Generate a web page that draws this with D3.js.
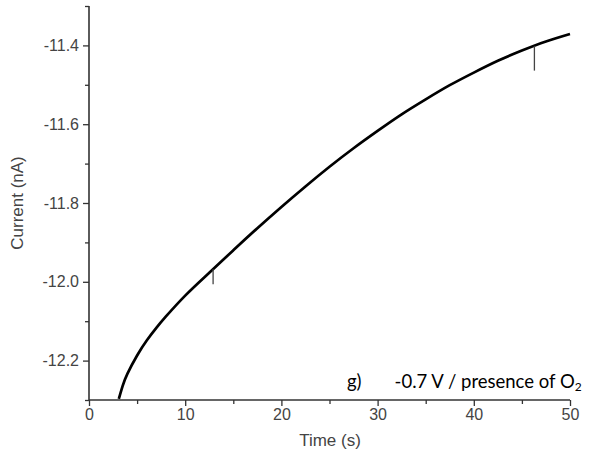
<!DOCTYPE html>
<html>
<head>
<meta charset="utf-8">
<script src="https://cdn.jsdelivr.net/npm/d3@7"></script>
<style>
  html, body { margin: 0; padding: 0; background: #fff; }
  svg { display: block; }
  .tick text { font-family: "Liberation Sans", Arial, sans-serif; font-size: 16px; fill: #444; }
</style>
</head>
<body>
<svg id="chart" width="589" height="461"></svg>
<script>
// Chronoamperometric trace: time (s) vs current (nA)
const timeS = [3.1, 3.5, 4, 5, 6, 7, 8, 10, 12.5, 15, 17.5, 20, 22.5, 25, 27.5, 30, 32.5, 35, 37.5, 40, 42.5, 45, 47.5, 50];
const currentNA = [-12.297, -12.264, -12.233, -12.187, -12.149, -12.117, -12.088, -12.035, -11.977, -11.920, -11.864, -11.810,
  -11.758, -11.708, -11.661, -11.617, -11.575, -11.537, -11.501, -11.469, -11.439, -11.413, -11.390, -11.371];

// Short transient spikes on the trace
const spikeTime = [12.9, 46.3];
const spikeTop = [-11.968, -11.402];
const spikeBottom = [-12.006, -11.464];

const xTicks = [0, 10, 20, 30, 40, 50];
const xMinorTicks = [5, 15, 25, 35, 45];
const yTicks = [-12.2, -12.0, -11.8, -11.6, -11.4];
const yMinorTicks = [-12.3, -12.1, -11.9, -11.7, -11.5, -11.3];

const svg = d3.select("#chart");
const x = d3.scaleLinear().domain([0, 50]).range([89, 570]);
const y = d3.scaleLinear().domain([-12.3, -11.3]).range([400, 6]);

const axisColor = "#333";

// Minor ticks
const gxm = svg.append("g").attr("transform", "translate(0,400)")
  .call(d3.axisBottom(x).tickValues(xMinorTicks).tickSize(4).tickFormat(""));
const gym = svg.append("g").attr("transform", "translate(89,0)")
  .call(d3.axisLeft(y).tickValues(yMinorTicks).tickSize(4).tickFormat(""));

// Major ticks with labels
const gx = svg.append("g").attr("transform", "translate(0,400)")
  .call(d3.axisBottom(x).tickValues(xTicks).tickSize(6).tickPadding(3).tickFormat(d3.format("d")));
const gy = svg.append("g").attr("transform", "translate(89,0)")
  .call(d3.axisLeft(y).tickValues(yTicks).tickSize(6).tickPadding(4).tickFormat(d => d3.format(".1f")(d).replace("−", "-")));

[gxm, gym, gx, gy].forEach(g => {
  g.selectAll(".domain").attr("stroke", axisColor).attr("stroke-width", 1.6);
  g.selectAll(".tick line").attr("stroke", axisColor).attr("stroke-width", 1.3);
});
[gxm, gym].forEach(g => g.select(".domain").remove());
gx.select(".domain").attr("d", `M${x(0)},0H${x(50)}`);
gy.select(".domain").attr("d", `M0,${y(-12.3)}V${y(-11.3)}`);

// Axis titles
svg.append("text")
  .attr("x", 330).attr("y", 446)
  .attr("text-anchor", "middle")
  .attr("font-family", "Liberation Sans, Arial, sans-serif")
  .attr("font-size", 17).attr("fill", "#444")
  .text("Time (s)");

svg.append("text")
  .attr("transform", "translate(23,203) rotate(-90)")
  .attr("text-anchor", "middle")
  .attr("font-family", "Liberation Sans, Arial, sans-serif")
  .attr("font-size", 17).attr("fill", "#444")
  .text("Current (nA)");

// Trace
const line = d3.line()
  .x((d, i) => x(timeS[i]))
  .y((d, i) => y(currentNA[i]))
  .curve(d3.curveNatural);

svg.append("path")
  .datum(currentNA)
  .attr("d", line)
  .attr("fill", "none")
  .attr("stroke", "#000")
  .attr("stroke-width", 2.7)
  .attr("stroke-linecap", "butt");

svg.append("g").selectAll("line")
  .data(spikeTime)
  .join("line")
  .attr("x1", d => x(d)).attr("x2", d => x(d))
  .attr("y1", (d, i) => y(spikeTop[i]))
  .attr("y2", (d, i) => y(spikeBottom[i]))
  .attr("stroke", "#444")
  .attr("stroke-width", 1.3);

// Condition label
const lab = svg.append("text")
  .attr("x", 347).attr("y", 388)
  .attr("font-family", "Lato, 'Open Sans', sans-serif")
  .attr("font-size", 18.5).attr("fill", "#000");
lab.append("tspan").text("g)");
lab.append("tspan").attr("dx", 33).text("-0.7 V / presence of O");
lab.append("tspan").attr("font-size", 12).attr("dy", 3).text("2");
</script>
</body>
</html>
